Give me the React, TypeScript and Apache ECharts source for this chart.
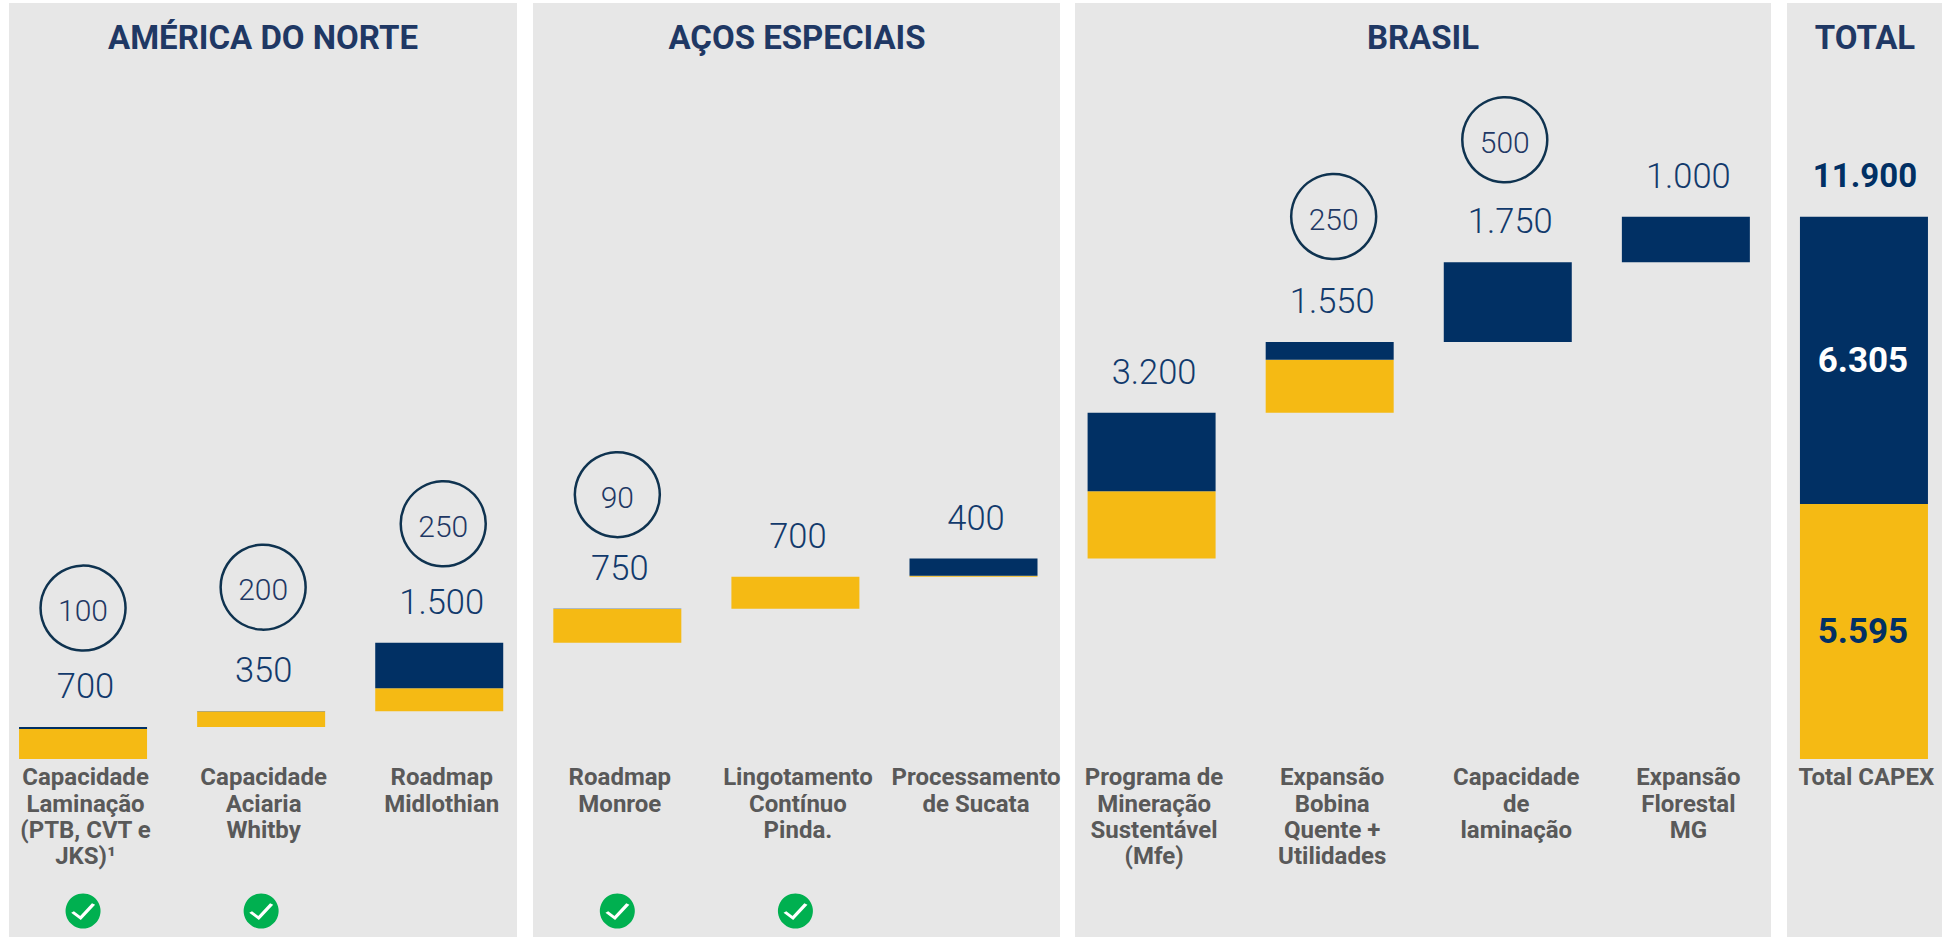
import React, { useEffect, useRef } from "react";
import * as echarts from "echarts";

const categories = [
  "Capacidade\nLaminação\n(PTB, CVT e\nJKS)¹",
  "Capacidade\nAciaria\nWhitby",
  "Roadmap\nMidlothian",
  "Roadmap\nMonroe",
  "Lingotamento\nContínuo\nPinda.",
  "Processamento\nde Sucata",
  "Programa de\nMineração\nSustentável\n(Mfe)",
  "Expansão\nBobina\nQuente +\nUtilidades",
  "Capacidade\nde\nlaminação",
  "Expansão\nFlorestal\nMG",
  "Total CAPEX",
];
const yellowValues = [660, 340, 500, 740, 700, 20, 1475, 1160, 0, 0, 5595];
const navyValues = [40, 10, 1000, 10, 0, 380, 1725, 390, 1750, 1000, 6305];
const totalLabels = ["700", "350", "1.500", "750", "700", "400", "3.200", "1.550", "1.750", "1.000", "11.900"];
const circledValues = ["100", "200", "250", "90", "", "", "", "250", "500", "", ""];
const approved = [true, true, false, true, true, false, false, false, false, false, false];
const yellowTotalLabel = "5.595";
const navyTotalLabel = "6.305";
const panelTitles = ["AMÉRICA DO NORTE", "AÇOS ESPECIAIS", "BRASIL", "TOTAL"];

// layout only
const panels = [
  [9, 3, 508, 934],
  [533, 3, 527, 934],
  [1075, 3, 696, 934],
  [1787, 3, 155, 934],
];
const titleCenters = [263, 797, 1423, 1865];
const circleShift = [
  [0, -119], [2, -124], [4, -119], [0, -114], [0, 0], [0, 0], [0, 0], [4, -125.5], [-3, -122.5], [0, 0], [0, 0],
];
const FONT = "Roboto";
const NAVY = "#013064";
const YELLOW = "#F5BA14";
const TITLE = "#1F3864";
const VALUE = "#123A6C";
const GREY = "#595959";

const tops: number[] = [];
const bases: number[] = [];
{
  let run = 0;
  categories.forEach((_, i) => {
    const h = yellowValues[i] + navyValues[i];
    const isTotal = i === categories.length - 1;
    bases.push(isTotal ? 0 : run);
    run = isTotal ? run : run + h;
    tops.push(isTotal ? h : run);
  });
}

const labelPad: Record<number, number[]> = { 8: [0, 0, 0, 17] };

export default function App() {
  const ref = useRef<HTMLDivElement>(null);
  useEffect(() => {
    document.body.style.margin = "0";
    const chart = echarts.init(ref.current!, undefined, { renderer: "svg" });
    chart.setOption({
      animation: false,
      backgroundColor: "#fff",
      textStyle: { fontFamily: FONT },
      grid: { left: -6, top: 212.2, width: 1959, height: 546.8, containLabel: false, outerBoundsMode: "none" },
      graphic: [
        ...panels.map(([x, y, width, height]) => ({
          type: "rect",
          z: 0,
          silent: true,
          shape: { x, y, width, height },
          style: { fill: "#E7E7E7" },
        })),
        ...panelTitles.map((text, i) => ({
          type: "text",
          z: 1,
          silent: true,
          x: titleCenters[i],
          y: 37,
          style: {
            text,
            fill: TITLE,
            font: `700 33px ${FONT}`,
            textAlign: "center",
            textVerticalAlign: "middle",
          },
        })),
      ],
      xAxis: {
        type: "category",
        data: categories.map((value, i) => ({
          value,
          textStyle: { padding: labelPad[i] ?? [0, 0, 0, 5] },
        })),
        axisLine: { show: false },
        axisTick: { show: false },
        axisLabel: {
          interval: 0,
          margin: 5,
          color: GREY,
          fontFamily: FONT,
          fontWeight: 700,
          fontSize: 24,
          lineHeight: 26.4,
          align: "center",
          verticalAlign: "top",
        },
      },
      yAxis: { type: "value", min: 0, max: 12000, show: false },
      series: [
        {
          type: "bar",
          stack: "w",
          barWidth: 128,
          silent: true,
          itemStyle: { color: "transparent" },
          data: bases,
        },
        {
          type: "bar",
          stack: "w",
          barWidth: 128,
          silent: true,
          itemStyle: { color: YELLOW },
          data: yellowValues.map((value, i) =>
            i === categories.length - 1
              ? {
                  value,
                  label: {
                    show: true,
                    position: "inside",
                    offset: [-1, 0],
                    formatter: yellowTotalLabel,
                    color: NAVY,
                    fontFamily: FONT,
                    fontWeight: 700,
                    fontSize: 35,
                  },
                }
              : value
          ),
        },
        {
          type: "bar",
          stack: "w",
          barWidth: 128,
          silent: true,
          itemStyle: { color: NAVY },
          data: navyValues.map((value, i) =>
            i === categories.length - 1
              ? {
                  value,
                  label: {
                    show: true,
                    position: "inside",
                    offset: [-1, 0],
                    formatter: navyTotalLabel,
                    color: "#fff",
                    fontFamily: FONT,
                    fontWeight: 700,
                    fontSize: 35,
                  },
                }
              : value
          ),
        },
        {
          type: "scatter",
          silent: true,
          clip: false,
          symbolSize: 1,
          itemStyle: { color: "transparent", opacity: 1 },
          data: tops.map((t, i) => ({
            value: [i, t],
            label: {
              show: true,
              position: "inside",
              offset: [i === categories.length - 1 ? 1 : 2.5, -41],
              formatter: totalLabels[i],
              color: i === categories.length - 1 ? NAVY : VALUE,
              fontFamily: FONT,
              fontWeight: i === categories.length - 1 ? 700 : 300,
              fontSize: i === categories.length - 1 ? 33 : 34.5,
            },
          })),
        },
        {
          type: "scatter",
          silent: true,
          clip: false,
          symbol: "circle",
          symbolSize: 85,
          itemStyle: { color: "transparent", borderColor: "#0F3350", borderWidth: 2.5, opacity: 1 },
          data: tops
            .map((t, i) => ({ t, i }))
            .filter(({ i }) => circledValues[i] !== "")
            .map(({ t, i }) => ({
              value: [i, t],
              symbolOffset: circleShift[i],
              label: {
                show: true,
                position: "inside",
                offset: [0, 2.5],
                formatter: circledValues[i],
                color: TITLE,
                fontFamily: FONT,
                fontWeight: 300,
                fontSize: 30,
              },
            })),
        },
        {
          type: "scatter",
          silent: true,
          clip: false,
          symbol: "circle",
          symbolSize: 35,
          symbolOffset: [0, 152],
          itemStyle: { color: "#00B050", opacity: 1 },
          data: approved.map((a, i) => (a ? [i, 0] : null)).filter(Boolean),
        },
        {
          type: "scatter",
          silent: true,
          clip: false,
          z: 3,
          symbol: "path://M0 8L8 14L21 0",
          symbolSize: [21, 14],
          symbolOffset: [0, 152],
          itemStyle: { color: "transparent", borderColor: "#fff", borderWidth: 3, opacity: 1 },
          data: approved.map((a, i) => (a ? [i, 0] : null)).filter(Boolean),
        },
      ],
    });
    return () => chart.dispose();
  }, []);
  return <div ref={ref} style={{ position: "fixed", left: 0, top: 0, width: 1942, height: 937 }} />;
}
